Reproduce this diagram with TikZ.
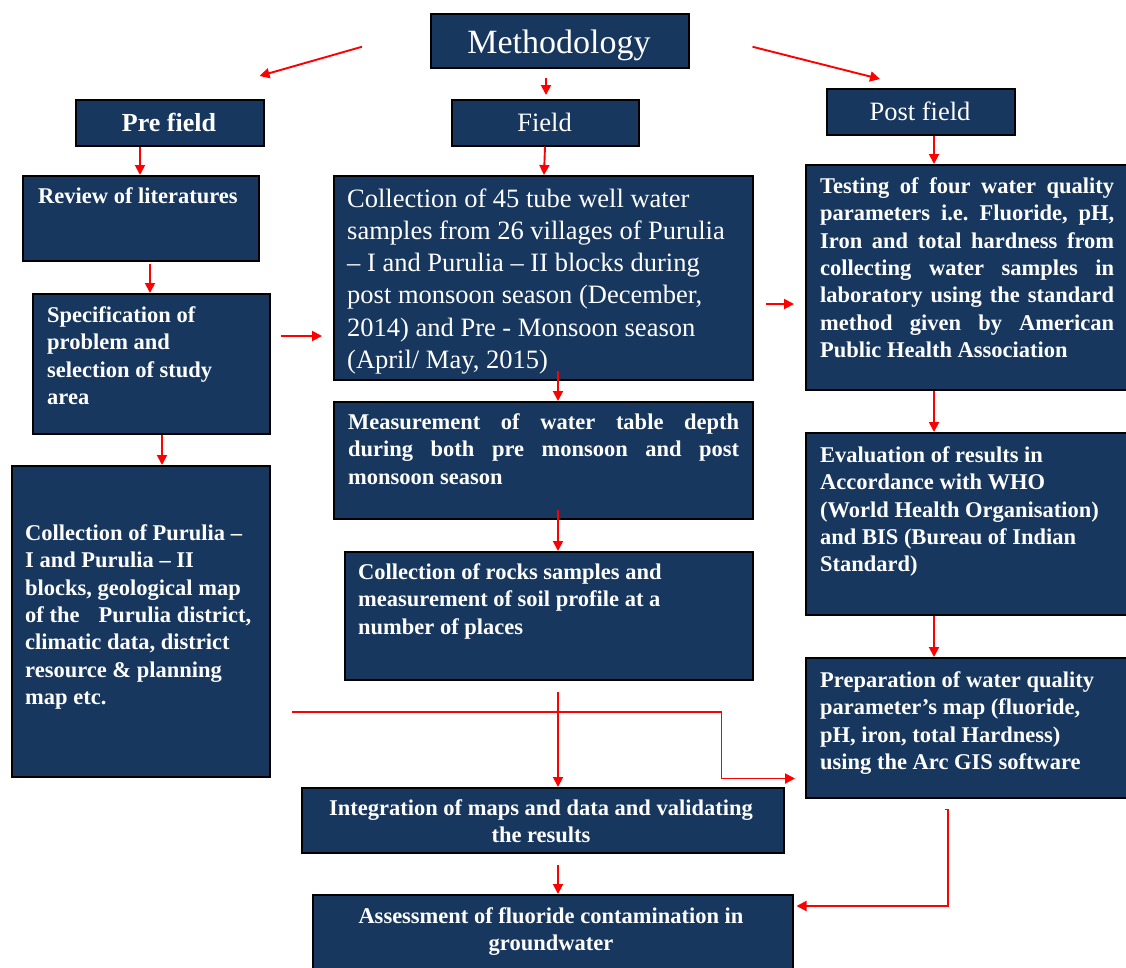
\documentclass[tikz,border=0pt]{standalone}
\usepackage{fontspec}
\setmainfont{Liberation Serif}
\usetikzlibrary{arrows.meta,calc}
\definecolor{navy}{RGB}{23,55,94}
\frenchspacing
\begin{document}
\begin{tikzpicture}[x=1pt,y=-1pt,
  box/.style={draw=black, line width=1.5pt, fill=navy, inner sep=0pt, anchor=north west},
  btxt/.style={text=white, inner sep=0pt, anchor=north west, align=left,
    font=\fontsize{22.5}{27.4}\selectfont\bfseries},
  rtxt/.style={text=white, inner sep=0pt, anchor=north west, align=left,
    font=\fontsize{26.5}{32.2}\selectfont},
  arr/.style={draw=red, line width=1.9pt, -{Triangle[length=10pt,width=10pt]}}]
\useasboundingbox (0,0) rectangle (1126,967);
\clip (0,0) rectangle (1126,967);
\fill[white] (0,0) rectangle (1126,967);
% boxes
\node[box, minimum width=258pt, minimum height=54pt] (meth) at (430,13) {};
\node[box, minimum width=188pt, minimum height=46pt] (pre) at (75,99) {};
\node[box, minimum width=187pt, minimum height=46pt] (field) at (451,99) {};
\node[box, minimum width=188pt, minimum height=46pt] (post) at (826,88) {};
\node[box, minimum width=236pt, minimum height=85pt] (rev) at (22,175) {};
\node[box, minimum width=237pt, minimum height=140pt] (spec) at (32,293) {};
\node[box, minimum width=258pt, minimum height=311pt] (coll) at (11,465) {};
\node[box, minimum width=419pt, minimum height=204pt] (c45) at (333,175) {};
\node[box, minimum width=419pt, minimum height=117pt] (meas) at (333,401) {};
\node[box, minimum width=408pt, minimum height=128pt] (rock) at (344,551) {};
\node[box, minimum width=340pt, minimum height=225pt] (test) at (805,164) {};
\node[box, minimum width=340pt, minimum height=182pt] (eval) at (805,432) {};
\node[box, minimum width=340pt, minimum height=140pt] (prep) at (805,657) {};
\node[box, minimum width=482pt, minimum height=65pt] (integ) at (301,787) {};
\node[box, minimum width=480pt, minimum height=96pt] (assess) at (312,894) {};
% texts
\node[text=white, inner sep=0pt, anchor=base, font=\fontsize{34}{40}\selectfont] (tmeth) at (559,53) {Methodology};
\node[text=white, inner sep=0pt, anchor=base, font=\fontsize{26}{31}\selectfont\bfseries] (tpre) at (169,131) {Pre field};
\node[text=white, inner sep=0pt, anchor=base, font=\fontsize{26.5}{32}\selectfont] (tfield) at (544.5,131) {Field};
\node[text=white, inner sep=0pt, anchor=base, font=\fontsize{26.5}{32}\selectfont] (tpost) at (920,120) {Post field};
\node[btxt] (trev) at (38,183) {\rule{0pt}{20pt}Review of literatures};
\node[btxt] (tspec) at (47,302) {\rule{0pt}{20pt}Specification of\\ problem and\\ selection of study\\ area};
\node[btxt] (tcoll) at (25,520) {\rule{0pt}{20pt}Collection of Purulia –\\ I and Purulia – II\\ blocks, geological map\\ of the\hspace{0.6em} Purulia district,\\ climatic data, district\\ resource \& planning\\ map etc.};
\node[rtxt] (tc45) at (347,184) {\rule{0pt}{23pt}Collection of 45 tube well water\\ samples from 26 villages of Purulia\\ – I and Purulia – II blocks during\\ post monsoon season (December,\\ 2014) and Pre - Monsoon season\\ (April/ May, 2015)};
\node[btxt, text width=391pt, align=justify] (tmeas) at (348,409) {\rule{0pt}{20pt}Measurement of water table depth\linebreak during both pre monsoon and post\linebreak monsoon season};
\node[btxt] (trock) at (358,559) {\rule{0pt}{20pt}Collection of rocks samples and\\ measurement of soil profile at a\\ number of places};
\node[btxt, text width=294pt, align=justify] (ttest) at (820,173) {\rule{0pt}{20pt}Testing of four water quality\linebreak parameters i.e. Fluoride, pH,\linebreak Iron and total hardness from\linebreak collecting water samples in\linebreak laboratory using the standard\linebreak method given by American\linebreak Public Health Association};
\node[btxt] (teval) at (820,442) {\rule{0pt}{20pt}Evaluation of results in\\ Accordance with WHO\\ (World Health Organisation)\\ and BIS (Bureau of Indian\\ Standard)};
\node[btxt] (tprep) at (820,667) {\rule{0pt}{20pt}Preparation of water quality\\ parameter’s map (fluoride,\\ pH, iron, total Hardness)\\ using the Arc GIS software};
\node[btxt, anchor=north, align=center] (tinteg) at (541,795) {\rule{0pt}{20pt}Integration of maps and data and validating\\ the results};
\node[btxt, anchor=north, align=center] (tassess) at (551,903) {\rule{0pt}{20pt}Assessment of fluoride contamination in\\ groundwater};
% connectors
\draw[arr] ($(meth.west)+(-68,6)$) -- ($(pre.north east)+(-5,-23)$);
\draw[arr] ($(field.north west)+(95,-21)$) -- ($(field.north west)+(95,-4)$);
\draw[arr] ($(meth.east)+(63,6)$) -- ($(post.north west)+(54,-9)$);
\draw[arr] ($(pre.south west)+(65,0)$) -- ($(rev.north west)+(118,0)$);
\draw[arr] ($(field.south west)+(94,0)$) -- ($(c45.north west)+(211,0)$);
\draw[arr] ($(post.south west)+(108,0)$) -- ($(test.north west)+(129,0)$);
\draw[arr] ($(rev.south west)+(128,2)$) -- ($(spec.north west)+(118,0)$);
\draw[arr] ($(spec.south west)+(130,0)$) -- ($(coll.north west)+(151,0)$);
\draw[arr] ($(spec.north east)+(10,43)$) -- ($(c45.north west)+(-11,161)$);
\draw[arr] ($(c45.north east)+(12,129)$) -- ($(test.north west)+(-11,140)$);
\draw[arr] ($(c45.south west)+(225,-10)$) -- ($(meas.north west)+(225,0)$);
\draw[arr] ($(meas.south west)+(225,-10)$) -- ($(rock.north west)+(214,0)$);
\draw[arr] ($(test.south west)+(129,0)$) -- ($(eval.north west)+(129,0)$);
\draw[arr] ($(eval.south west)+(129,0)$) -- ($(prep.north west)+(129,0)$);
\draw[arr] ($(rock.south west)+(214,11)$) -- ($(integ.north west)+(257,0)$);
\draw[arr] ($(coll.north east)+(21,247)$) -- ++(430,0) |- ($(prep.south west)+(-10,-20)$);
\draw[arr] ($(integ.south west)+(257,11)$) -- ($(assess.north west)+(246,0)$);
\draw[arr] ($(prep.south west)+(140,11)$) -- ++(3,0) |- ($(assess.north east)+(3,12)$);
\end{tikzpicture}
\end{document}
